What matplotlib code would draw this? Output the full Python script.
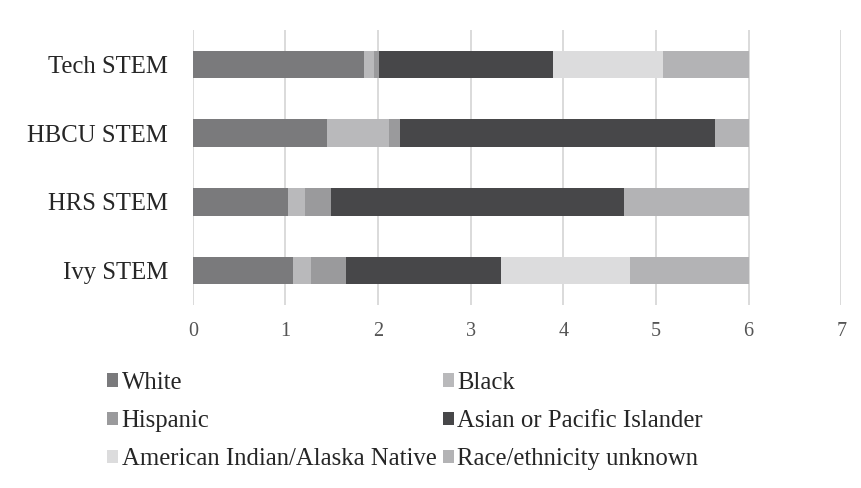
import matplotlib
matplotlib.use("Agg")
import matplotlib.pyplot as plt
import numpy as np

categories = ["Tech STEM", "HBCU STEM", "HRS STEM", "Ivy STEM"]
series_names = ["White", "Black", "Hispanic", "Asian or Pacific Islander",
                "American Indian/Alaska Native", "Race/ethnicity unknown"]
white    = [1.85, 1.45, 1.03, 1.08]
black    = [0.11, 0.67, 0.18, 0.20]
hispanic = [0.05, 0.12, 0.28, 0.37]
asian    = [1.88, 3.40, 3.16, 1.68]
amind    = [1.19, 0.00, 0.00, 1.39]
unknown  = [0.92, 0.36, 1.35, 1.28]
xticks = [0, 1, 2, 3, 4, 5, 6, 7]

colors = ["#7a7a7c", "#b9b9bb", "#9a9a9c", "#474749", "#dcdcdd", "#b3b3b5"]
values = [white, black, hispanic, asian, amind, unknown]

plt.rcParams['font.family'] = ['Liberation Serif', 'DejaVu Serif']

fig = plt.figure(figsize=(8.61, 4.88), dpi=100)
ax = fig.add_axes([0.224, 0.375, 0.753, 0.5635])

y = np.arange(len(categories))
left = np.zeros(len(categories))
handles = []
for name, vals, col in zip(series_names, values, colors):
    v = np.array(vals)
    h = ax.barh(y, v, left=left, height=0.4, color=col, label=name, zorder=3)
    handles.append(h)
    left += v

ax.set_ylim(len(categories) - 0.5, -0.5)
ax.set_yticks(y)
ax.set_yticklabels(categories, fontsize=17.8, color="#262626")
ax.set_xlim(0, 7)
ax.set_xticks(xticks)
ax.set_xticklabels([str(t) for t in xticks], fontsize=14.5, color="#555555")
ax.tick_params(axis='both', length=0)
ax.tick_params(axis='y', pad=18)
ax.tick_params(axis='x', pad=12)
ax.grid(axis='x', color="#d4d4d4", linewidth=1.2, zorder=0)
for s in ax.spines.values():
    s.set_visible(False)

order = [0, 2, 4, 1, 3, 5]
leg = fig.legend([handles[i] for i in order], [series_names[i] for i in order],
                 loc='upper left', bbox_to_anchor=(0.124, 0.238), ncol=2,
                 frameon=False, fontsize=17.8, handlelength=0.45, handleheight=0.45,
                 handletextpad=0.15, columnspacing=0.25, labelspacing=0.66,
                 borderaxespad=0, borderpad=0)
for t in leg.get_texts():
    t.set_color("#262626")

fig.savefig("out.png", dpi=100)
